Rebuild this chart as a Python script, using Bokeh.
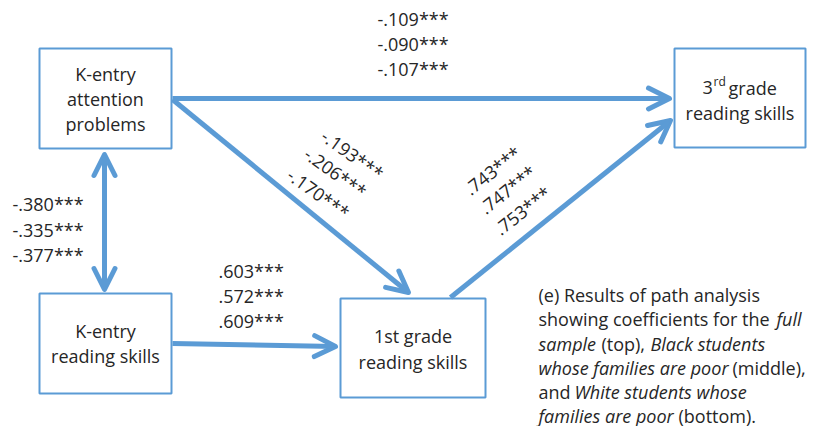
from bokeh.plotting import figure
from bokeh.models import Range1d, Arrow, OpenHead, ColumnDataSource
from bokeh.core.properties import value
from bokeh.embed import file_html
from bokeh.resources import INLINE
import math

# ---------------- data ----------------
node_names = ["attention", "kread", "g1", "g3"]
node_labels = [["K-entry", "attention", "problems"],
               ["K-entry", "reading skills"],
               ["1st grade", "reading skills"],
               ["grade", "reading skills"]]
coef_attn_g3 = [-0.109, -0.090, -0.107]
coef_corr = [-0.380, -0.335, -0.377]
coef_attn_g1 = [-0.193, -0.206, -0.170]
coef_read_g1 = [0.603, 0.572, 0.609]
coef_g1_g3 = [0.743, 0.747, 0.753]
stars = "***"

def fmt(v):
    s = f"{abs(v):.3f}".lstrip("0")
    return ("-" if v < 0 else "") + s + stars

# ---------------- layout ----------------
C = "#5B9BD5"
TXT = "#262626"
FONT = "Open Sans"
FS = "18px"

boxes = {
    "attention": (39, 171, 48, 148),
    "kread": (39, 171, 293, 393),
    "g1": (340, 485, 298, 397),
    "g3": (674, 805, 48, 147),
}

p = figure(width=809, height=426, output_backend="svg", toolbar_location=None,
           x_range=Range1d(0, 809), y_range=Range1d(426, 0), min_border=0)
p.axis.visible = False
p.grid.visible = False
p.outline_line_color = None
p.background_fill_color = "white"

# boxes
src = ColumnDataSource(dict(
    left=[boxes[n][0] for n in node_names], right=[boxes[n][1] for n in node_names],
    top=[boxes[n][2] for n in node_names], bottom=[boxes[n][3] for n in node_names]))
p.quad(left="left", right="right", top="top", bottom="bottom", source=src,
       fill_color="white", line_color=C, line_width=2)

# arrows
def arrow(x0, y0, x1, y1, both=False):
    head = lambda: OpenHead(size=21, line_width=5, line_color=C, line_cap="round", line_join="round")
    a = Arrow(x_start=x0, y_start=y0, x_end=x1, y_end=y1, line_color=C, line_width=5,
              end=head(), start=head() if both else None)
    p.add_layout(a)

arrow(172, 98, 669, 98)
arrow(172, 99, 408, 292)
arrow(104, 154, 104, 289, both=True)
arrow(172, 343, 335, 346)
arrow(450, 297, 670, 120)

def txt(xs, ys, texts, align="left", angle=0.0, style="normal", size=FS, baseline="middle"):
    p.text(x=xs, y=ys, text=texts, text_font=value(FONT), text_font_size=size,
           text_color=TXT, text_align=align, text_baseline=baseline, angle=angle,
           text_font_style=style)

# node labels
cx = lambda n: (boxes[n][0] + boxes[n][1]) / 2
txt([cx("attention")] * 3, [73, 98, 123], node_labels[0], align="center")
txt([cx("kread")] * 2, [330, 355], node_labels[1], align="center")
txt([cx("g1")] * 2, [335, 361], node_labels[2], align="center")
txt([702], [87], ["3"])
txt([713], [81], ["rd"], size="12px")
txt([728], [87], [node_labels[3][0]])
txt([cx("g3")], [112], [node_labels[3][1]], align="center")

# coefficients
txt([377] * 3, [18, 43, 68], [fmt(v) for v in coef_attn_g3])
txt([12] * 3, [203, 229, 254], [fmt(v) for v in coef_corr])
txt([218] * 3, [270, 295, 320], [fmt(v) for v in coef_read_g1])
txt([352, 335, 318], [154, 172, 193], [fmt(v) for v in coef_attn_g1], align="center",
    angle=-math.radians(36))
txt([492, 507, 522], [170, 189, 210], [fmt(v) for v in coef_g1_g3], align="center",
    angle=math.radians(38))

# caption
cap_y = [294, 318.5, 343, 367, 391, 415]
segs = [
    (538, 0, "(e) Results of path analysis", "normal"),
    (538, 1, "showing coefficients for the", "normal"),
    (776, 1, "full", "italic"),
    (538, 2, "sample", "italic"),
    (601, 2, "(top),", "normal"),
    (650, 2, "Black students", "italic"),
    (538, 3, "whose families are poor", "italic"),
    (732, 3, "(middle),", "normal"),
    (538, 4, "and", "normal"),
    (574, 4, "White students whose", "italic"),
    (538, 5, "families are poor", "italic"),
    (678, 5, "(bottom).", "normal"),
]
for x, li, s, st in segs:
    txt([x], [cap_y[li]], [s], style=st)

open("out.html", "w").write(file_html(p, INLINE))
